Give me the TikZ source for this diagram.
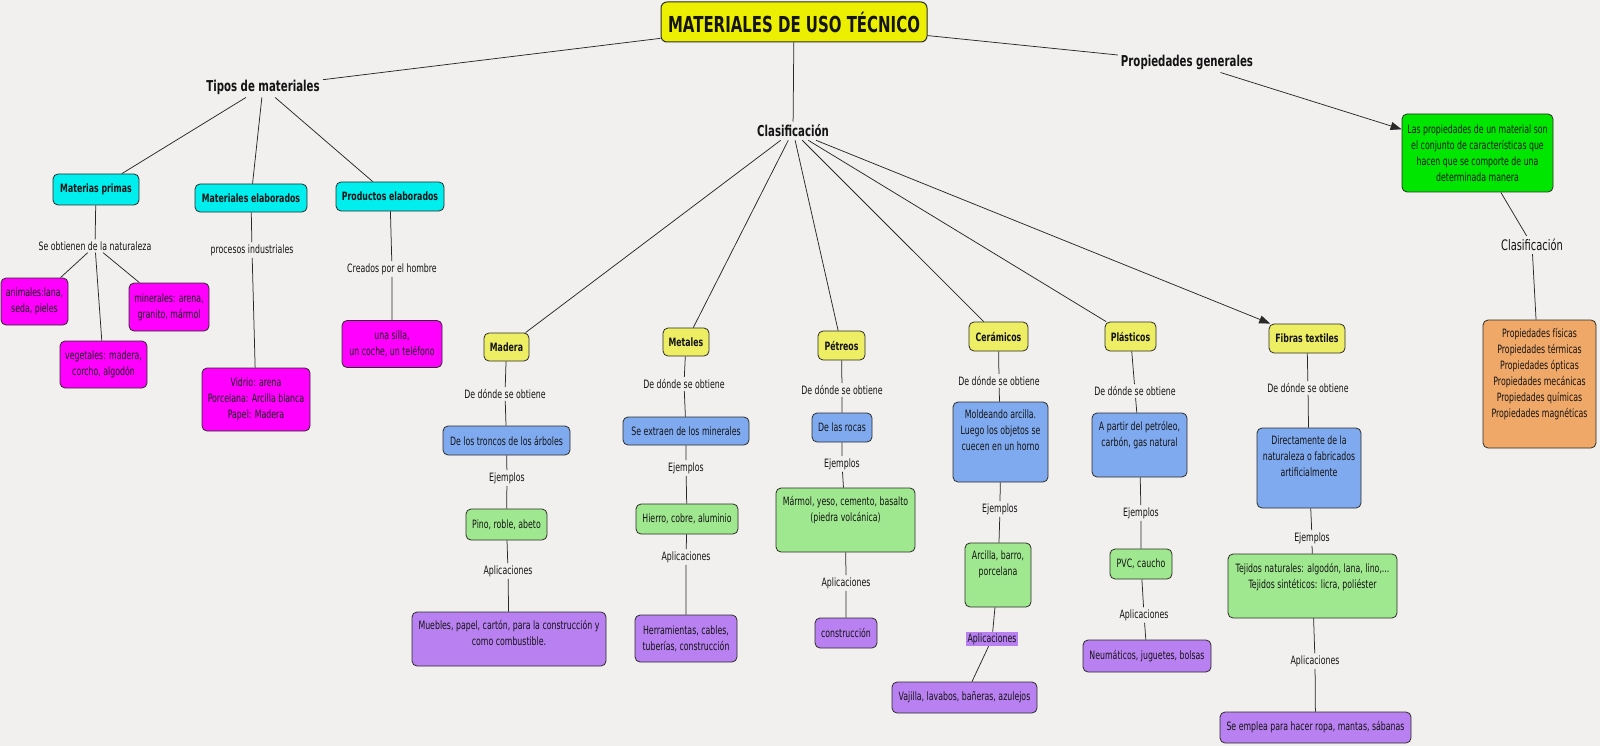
\documentclass[tikz,border=0pt]{standalone}
\usepackage{fontspec}
\setmainfont{DejaVu Sans}[FakeStretch=0.68]
\usetikzlibrary{arrows.meta}
\definecolor{bgc}{RGB}{241,240,239}
\definecolor{bordc}{RGB}{45,45,40}
\definecolor{linec}{RGB}{40,40,40}
\definecolor{txtc}{RGB}{20,20,20}
\definecolor{titlec}{RGB}{236,240,0}
\definecolor{yelc}{RGB}{238,238,100}
\definecolor{cyanc}{RGB}{0,238,238}
\definecolor{magc}{RGB}{255,0,255}
\definecolor{bluec}{RGB}{128,170,240}
\definecolor{grnc}{RGB}{160,232,144}
\definecolor{purc}{RGB}{184,128,240}
\definecolor{brgreen}{RGB}{0,230,0}
\definecolor{orangec}{RGB}{240,168,104}
\newcommand{\fbody}{\fontsize{11.5}{16}\selectfont}
\newcommand{\fboldsm}{\fontsize{11.5}{14}\selectfont\bfseries}
\newcommand{\fhead}{\fontsize{15}{18}\selectfont\bfseries}
\newcommand{\ftitle}{\fontsize{22}{26}\selectfont\bfseries}
\newcommand{\fclas}{\fontsize{14.5}{17}\selectfont}
\tikzset{
  lab/.style={font=\fbody, inner sep=2pt, align=center, text=txtc},
  head/.style={font=\fhead, inner sep=3pt, text=txtc},
  clasr/.style={font=\fclas, inner sep=3pt, text=txtc},
  bx/.style={draw=bordc, line width=0.8pt, rounded corners=5pt, inner sep=0pt, align=center, font=\fbody, text=txtc},
  titlebox/.style={bx, fill=titlec, font=\ftitle, rounded corners=6pt, line width=1pt},
  cyanbox/.style={bx, fill=cyanc, font=\fboldsm},
  yelbox/.style={bx, fill=yelc, font=\fboldsm},
  magbox/.style={bx, fill=magc},
  bluebox/.style={bx, fill=bluec},
  grnbox/.style={bx, fill=grnc},
  purbox/.style={bx, fill=purc},
  con/.style={draw=linec, line width=0.75pt},
  arr/.style={con, -{Triangle[length=11pt,width=8pt]}},
}
\begin{document}
\begin{tikzpicture}[x=1pt,y=-1pt]
\useasboundingbox (0,0) rectangle (1600,746);
\fill[bgc] (0,0) rectangle (1600,746);

% top level
\node[titlebox, minimum width=266pt, minimum height=40pt] (title) at (794,22) {MATERIALES DE USO TÉCNICO};
\node[head] (tipos) at (263,87) {Tipos de materiales};
\node[head] (propg) at (1187,62) {Propiedades generales};
\node[head] (clas) at (793,131) {Clasificación};

% tipos de materiales
\node[cyanbox, minimum width=86pt, minimum height=31pt] (mp) at (96,189.5) {Materias primas};
\node[cyanbox, minimum width=112pt, minimum height=28pt] (me) at (251,198) {Materiales elaborados};
\node[cyanbox, minimum width=108pt, minimum height=29pt] (pe) at (390,196.5) {Productos elaborados};
\node[lab] (lnat) at (95,246) {Se obtienen de la naturaleza};
\node[lab] (lind) at (252,250) {procesos industriales};
\node[lab] (lhom) at (392,269) {Creados por el hombre};
\node[magbox, minimum width=67pt, minimum height=47pt] (anim) at (34.5,301.5) {animales:lana,\\seda, pieles};
\node[magbox, minimum width=80pt, minimum height=48pt] (mine) at (169,307) {minerales: arena,\\granito, mármol};
\node[magbox, minimum width=87pt, minimum height=47pt] (vege) at (103.5,364.5) {vegetales: madera,\\corcho, algodón};
\node[magbox, minimum width=108pt, minimum height=63pt] (vidr) at (256,399.5) {Vidrio: arena\\Porcelana: Arcilla blanca\\Papel: Madera};
\node[magbox, minimum width=100pt, minimum height=47pt] (silla) at (392,344) {una silla,\\un coche, un teléfono};

% categories
\node[yelbox, minimum width=45pt, minimum height=28pt] (mad) at (506.5,347) {Madera};
\node[yelbox, minimum width=46pt, minimum height=28pt] (met) at (686,342) {Metales};
\node[yelbox, minimum width=47pt, minimum height=29pt] (pet) at (841.5,345.5) {Pétreos};
\node[yelbox, minimum width=59pt, minimum height=29pt] (cer) at (998.5,336.5) {Cerámicos};
\node[yelbox, minimum width=51pt, minimum height=29pt] (pla) at (1130.5,336.5) {Plásticos};
\node[yelbox, minimum width=76pt, minimum height=29pt] (fib) at (1307,338.5) {Fibras textiles};

% Madera
\node[lab] (madL1) at (505,394) {De dónde se obtiene};
\node[bluebox, minimum width=127pt, minimum height=29pt] (madB) at (506.5,440.5) {De los troncos de los árboles};
\node[lab] (madL2) at (507,478) {Ejemplos};
\node[grnbox, minimum width=81pt, minimum height=31pt] (madG) at (506.5,524.5) {Pino, roble, abeto};
\node[lab] (madL3) at (508,571) {Aplicaciones};
\node[purbox, minimum width=194pt, minimum height=54pt] (madP) at (509,639) {};
\node[lab, anchor=north] (madPt) at (509,618) {Muebles, papel, cartón, para la construcción y\\como combustible.};

% Metales
\node[lab] (metL1) at (684,384) {De dónde se obtiene};
\node[bluebox, minimum width=126pt, minimum height=28pt] (metB) at (686,431) {Se extraen de los minerales};
\node[lab] (metL2) at (686,468) {Ejemplos};
\node[grnbox, minimum width=102pt, minimum height=30pt] (metG) at (687,519) {Hierro, cobre, aluminio};
\node[lab] (metL3) at (686,557) {Aplicaciones};
\node[purbox, minimum width=102pt, minimum height=47pt] (metP) at (686,638.5) {Herramientas, cables,\\tuberías, construcción};

% Petreos
\node[lab] (petL1) at (842,390) {De dónde se obtiene};
\node[bluebox, minimum width=60pt, minimum height=29pt] (petB) at (842,427.5) {De las rocas};
\node[lab] (petL2) at (842,464) {Ejemplos};
\node[grnbox, minimum width=139pt, minimum height=64pt] (petG) at (845.5,520) {};
\node[lab, anchor=north] (petGt) at (845.5,494) {Mármol, yeso, cemento, basalto\\(piedra volcánica)};
\node[lab] (petL3) at (846,583) {Aplicaciones};
\node[purbox, minimum width=62pt, minimum height=30pt] (petP) at (846,633) {construcción};

% Ceramicos
\node[lab] (cerL1) at (999,381) {De dónde se obtiene};
\node[bluebox, minimum width=95pt, minimum height=80pt] (cerB) at (1000.5,442) {};
\node[lab, anchor=north] (cerBt) at (1000.5,408) {Moldeando arcilla.\\Luego los objetos se\\cuecen en un horno};
\node[lab] (cerL2) at (1000,509) {Ejemplos};
\node[grnbox, minimum width=66pt, minimum height=64pt] (cerG) at (998,575) {};
\node[lab, anchor=north] (cerGt) at (998,549) {Arcilla, barro,\\porcelana};
\node[lab, fill=purc, inner sep=1.5pt] (cerL3) at (992,639) {Aplicaciones};
\node[purbox, minimum width=145pt, minimum height=31pt] (cerP) at (964.5,697.5) {Vajilla, lavabos, bañeras, azulejos};

% Plasticos
\node[lab] (plaL1) at (1135,391) {De dónde se obtiene};
\node[bluebox, minimum width=95pt, minimum height=64pt] (plaB) at (1139.5,445) {};
\node[lab, anchor=north] (plaBt) at (1139.5,419) {A partir del petróleo,\\carbón, gas natural};
\node[lab] (plaL2) at (1141,513) {Ejemplos};
\node[grnbox, minimum width=62pt, minimum height=30pt] (plaG) at (1141,564) {PVC, caucho};
\node[lab] (plaL3) at (1144,615) {Aplicaciones};
\node[purbox, minimum width=128pt, minimum height=32pt] (plaP) at (1147,656) {Neumáticos, juguetes, bolsas};

% Fibras
\node[lab] (fibL1) at (1308,388) {De dónde se obtiene};
\node[bluebox, minimum width=104pt, minimum height=80pt] (fibB) at (1309,468) {};
\node[lab, anchor=north] (fibBt) at (1309,434) {Directamente de la\\naturaleza o fabricados\\artificialmente};
\node[lab] (fibL2) at (1312,538) {Ejemplos};
\node[grnbox, minimum width=169pt, minimum height=64pt] (fibG) at (1312.5,586) {};
\node[lab, anchor=north] (fibGt) at (1312.5,561) {Tejidos naturales: algodón, lana, lino,...\\Tejidos sintéticos: licra, poliéster};
\node[lab] (fibL3) at (1315,661) {Aplicaciones};
\node[purbox, minimum width=191pt, minimum height=31pt] (fibP) at (1315.5,727.5) {Se emplea para hacer ropa, mantas, sábanas};

% Propiedades
\node[bx, fill=brgreen, minimum width=151pt, minimum height=78pt] (gbox) at (1477.5,153) {Las propiedades de un material son\\el conjunto de características que\\hacen que se comporte de una\\determinada manera};
\node[clasr] (clasR) at (1532,245) {Clasificación};
\node[bx, fill=orangec, minimum width=113pt, minimum height=128pt] (obox) at (1539.5,384) {};
\node[lab, anchor=north] (oboxt) at (1539.5,326) {Propiedades físicas\\Propiedades térmicas\\Propiedades ópticas\\Propiedades mecánicas\\Propiedades químicas\\Propiedades magnéticas};

% connectors
\draw[con] (title) -- (tipos);
\draw[con] (title) -- (propg);
\draw[con] (title) -- (clas);
\draw[con] (tipos) -- (mp);
\draw[con] (tipos) -- (me);
\draw[con] (tipos) -- (pe);
\draw[con] (mp) -- (lnat);
\draw[con] (lnat) -- (anim);
\draw[con] (lnat) -- (vege);
\draw[con] (lnat) -- (mine);
\draw[con] (me) -- (lind) -- (vidr);
\draw[con] (pe) -- (lhom) -- (silla);
\draw[con] (clas) -- (mad);
\draw[con] (clas) -- (met);
\draw[con] (clas) -- (pet);
\draw[con] (clas) -- (cer);
\draw[con] (clas) -- (pla);
\draw[arr] (clas) -- (fib);
\draw[con] (mad) -- (madL1) -- (madB) -- (madL2) -- (madG) -- (madL3) -- (madP);
\draw[con] (met) -- (metL1) -- (metB) -- (metL2) -- (metG) -- (metL3) -- (metP);
\draw[con] (pet) -- (petL1) -- (petB) -- (petL2) -- (petG) -- (petL3) -- (petP);
\draw[con] (cer) -- (cerL1) -- (cerB) -- (cerL2) -- (cerG) -- (cerL3) -- (cerP);
\draw[con] (pla) -- (plaL1) -- (plaB) -- (plaL2) -- (plaG) -- (plaL3) -- (plaP);
\draw[con] (fib) -- (fibL1) -- (fibB) -- (fibL2) -- (fibG) -- (fibL3) -- (fibP);
\draw[arr] (propg) -- (gbox);
\draw[con] (gbox) -- (clasR) -- (obox);
\end{tikzpicture}
\end{document}
